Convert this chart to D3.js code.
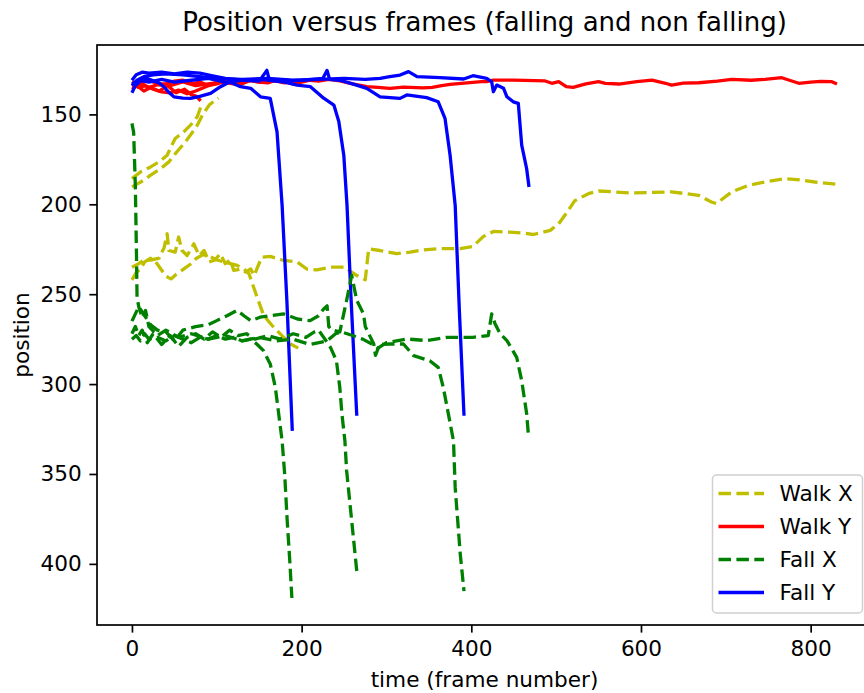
<!DOCTYPE html>
<html>
<head>
<meta charset="utf-8">
<script src="https://cdn.jsdelivr.net/npm/d3@7"></script>
<style>
  body { margin: 0; background: #fff; }
  text { font-family: "DejaVu Sans", sans-serif; fill: #000; }
</style>
</head>
<body>
<div class="canvas"></div>
<script>
// data: each trial is a list of [frame, position]
// walk trials: long, medium, short 1, short 2
const walkX = [
  [[0,235],[8,233],[14,231],[22,231],[32,230],[38,224],[41.5,216.4],[43.5,225.7],[51,226.6],[55,218.2],[59,225.7],[65,228.5],[73,222],[79,228.5],[85,225.7],[91,232],[98,231],[104,227.5],[110,233],[116,231],[120,236.8],[128,236],[134,237.7],[140,236],[144,239.6],[153,229.4],[163,229],[177,231],[195,232.2],[206,236],[218,236.5],[234,235],[252,235],[257,237.2],[265,239.6],[275,242],[279,224.7],[292,225.7],[312,227.5],[328,226.6],[344,225.3],[363,224.7],[387,224.7],[402,223.4],[414,218],[426,215.1],[446,215.5],[461,216],[473,216.8],[493,214.5],[503,210.8],[512,205],[522,198],[538,194.1],[550,192.6],[589,193.7],[636,193.1],[668,195],[683,198.7],[689,199.6],[707,193.1],[727,189.4],[746,187.6],[770,185.7],[790,186.6],[805,187.6],[831,188.9]],
  [[0,242],[5,238],[10,236],[15,232],[22,230],[28,232],[34,236],[40,240],[46,241.5],[52,239],[58,237],[64,235],[70,233],[76,230],[84,228],[92,229],[100,231],[108,232],[116,233],[124,234],[132,236],[138,238.7],[147.5,251.7],[155.4,261.9],[167,268.4],[179,274],[188,278],[196,280]],
  [[0,190.3],[7,188.5],[14,186.6],[22,183.8],[34,180.1],[43.5,176.4],[53,170.8],[63,165.3],[73,158.8],[77,156],[83,150.4],[91,144.8],[96,143],[102,141]],
  [[0,185.7],[10,182],[22,179.2],[32,176.4],[41.5,172.7],[46,168],[51,163.4],[61,159.7],[69,156],[77,151.3],[81,146]]
]

const walkY = [
  [[0,132],[10,133],[20,131],[30,133],[40,133],[50,131.5],[60,131],[70,133],[80,132],[90,134],[100,133],[110,131.5],[120,132],[130,133],[140,131],[150,132],[160,132.5],[170,131],[180,131.5],[190,133],[200,132],[210,131],[220,131.5],[232,130.5],[245,131.4],[260,133],[277,134.6],[290,135],[304,135.5],[320,134.8],[343,135.2],[354,135],[365,134],[375,133.3],[395,132.5],[412,131.8],[418,131.8],[426,130.9],[450,130.9],[487,131.4],[495,132.7],[503,131.8],[512,134.6],[520,135],[535,133],[550,131.8],[558,132.7],[574,133.1],[595,131.8],[613,130.9],[629,132.7],[636,133.7],[650,132.6],[668,132.4],[690,131.5],[707,130.5],[730,131],[746,130.5],[766,129.6],[775,131],[786,132.7],[800,132],[812,131.6],[825,131.8],[831,133.1]],
  [[0,134],[10,133],[20,135],[30,133.5],[45,134],[60,132],[75,134],[90,133],[105,132],[120,133],[135,131],[150,132],[165,131],[180,132.5],[196,131.5]],
  [[0,133],[8,135],[16,134],[25,136],[35,137.5],[45,138],[55,136.5],[65,138.5],[75,137],[85,135],[95,133],[102,132]],
  [[0,136],[6,134],[14,137],[22,135],[32,137],[42,134],[52,138],[62,136],[70,139],[76,140],[81,142.5]]
]

// fall trials: A, B, C, D
const fallX = [
  [[0,275],[5,273],[10,276],[15,272],[20,275],[30,274],[40,276],[50,273],[60,275],[70,277],[80,274],[90,275],[100,273],[110,275],[120,274],[130,276],[140,275],[147,277.7],[155,281.4],[163,288.8],[169,301.8],[173,316.7],[177,331.6],[180,350],[183,376],[186,398],[188.5,419]],
  [[0,272],[4,268],[8,273],[12,270],[18,277],[25,272],[35,278],[45,273],[55,279],[65,274],[75,272],[85,275],[95,271],[105,274],[115,270],[125,273],[135,272],[145,275],[160,273],[175,275],[190,272],[205,274],[215,271],[220,270],[226,274],[234,279.6],[241,287],[245,301.9],[247.5,316.7],[251,331.6],[253,348],[259,376],[265,404]],
  [[0,265],[5,260],[8,257],[15,262],[22,267],[30,270],[40,271],[50,276],[60,270],[75,268],[90,267],[100,264.7],[112,262],[124,259],[132,262],[140,264.7],[151,262.8],[163,262],[179,261],[195,263.8],[210,264.7],[220,262],[226,258.2],[230,256.5],[232,268],[236,270],[245,271],[253,253.5],[259,239.6],[265,253.5],[273,261],[275,268],[285,277.7],[287,284],[292,278],[304,277.7],[320,277.7],[332,284.2],[351,287],[361,290.7],[367,301.9],[373,316.7],[379,331.6],[381,357.6],[387,394.7],[391.4,415.2]],
  [[0,155],[2,160],[4,190],[5.4,230],[6,251.7],[8,257],[12,263],[16,259],[20,268],[30,273],[40,270],[55,274],[70,272],[90,275],[110,273],[130,276],[150,274],[170,276],[190,275],[210,278],[230,276],[240,272],[247,271],[260,273],[272,275],[280,277],[290,280],[300,277],[324,274.9],[347,275.8],[371,274],[402,274],[420,273],[424,261],[428,266.5],[434,272],[442,275.8],[453.5,285.1],[459.4,298.1],[465.3,316.7],[467.2,327.9]]
]

const fallY = [
  [[0,138],[4,134],[10,131.5],[18,130],[26,131.5],[32,132.5],[37.7,134.6],[44,138],[49.5,140.2],[60,141],[69,141.1],[80,140],[92.6,138.3],[104.4,134.6],[115,132],[128,134.6],[140,135.5],[151.5,140.2],[163,141.1],[171,159.7],[177,200.6],[182.6,253.5],[189,326]],
  [[0,131],[5,128],[12,126.5],[20,127],[35,126.5],[50,127.5],[65,126.5],[80,127],[95,128.5],[110,130],[130,131],[150,131.5],[159,125.5],[162,131],[180,132],[194.7,133.7],[210.4,134.6],[226,141],[238,144.8],[243.8,154],[249.7,172.7],[253.5,200.6],[258,250],[265,317.6]],
  [[0,133],[8,131],[20,132],[35,130.5],[50,132],[70,131],[90,130],[110,132],[130,131],[150,130.5],[175,131.5],[200,131],[225,130],[230,125.5],[233,130.5],[245,131],[260,133],[276.8,135.5],[292.5,140.2],[316,141.1],[324,139.2],[347.4,140.7],[361,143],[369,152.2],[375,172.7],[381,200.6],[386,260],[391.4,317.6]],
  [[0,134],[6,131],[14,129],[25,128],[40,127.5],[60,128],[80,129],[100,130],[130,130.5],[160,130],[190,131],[220,130.5],[250,130],[275,130.5],[292.5,130],[304,129],[316,128.1],[326,126.2],[336,129],[363,129.6],[391,130.3],[402,128.5],[418,129.9],[424,131.8],[426,137.4],[430,133.7],[438,135.5],[442,140.2],[449.5,143],[455.4,143.9],[459.4,167.1],[465.2,180.1],[468,190.4]]
]

const xTicks = [0, 200, 400, 600, 800]
const yTicks = [150, 200, 250, 300, 350, 400]
const legendLabels = ['Walk X', 'Walk Y', 'Fall X', 'Fall Y']

// figure layout
const dims = { width: 864, height: 693 }
const plot = { left: 97, top: 45, right: 872, bottom: 625 }
const fontSize = 21.6

const series = [
  { trials: walkX, color: '#bfbf00', dash: '12.5,5.4' },
  { trials: walkY, color: '#ff0000', dash: null },
  { trials: fallX, color: '#008000', dash: '12.5,5.4' },
  { trials: fallY, color: '#0000ff', dash: null }
]

const svg = d3.select('.canvas')
  .append('svg')
  .attr('width', dims.width)
  .attr('height', dims.height)

svg.append('rect')
  .attr('width', dims.width)
  .attr('height', dims.height)
  .attr('fill', '#fff')

// scales (y inverted like the original)
const x = d3.scaleLinear().domain([-41.2, 872.3]).range([plot.left, plot.right])
const y = d3.scaleLinear().domain([111.4, 434]).range([plot.top, plot.bottom])

svg.append('clipPath').attr('id', 'clip')
  .append('rect')
  .attr('x', plot.left).attr('y', plot.top)
  .attr('width', plot.right - plot.left).attr('height', plot.bottom - plot.top)

const line = d3.line()
  .x(d => x(d[0]))
  .y(d => y(d[1]))

const lines = svg.append('g').attr('clip-path', 'url(#clip)')

// matplotlib order: walk trials, then fall trials (X before Y in each)
const drawOrder = [[0, 1], [2, 3]]
drawOrder.forEach(pair => {
  const n = series[pair[0]].trials.length
  for (let t = 0; t < n; t++) {
    pair.forEach(si => {
      const s = series[si]
      lines.append('path')
        .datum(s.trials[t])
        .attr('fill', 'none')
        .attr('stroke', s.color)
        .attr('stroke-width', 3.3)
        .attr('stroke-linejoin', 'round')
        .attr('stroke-dasharray', s.dash)
        .attr('d', line)
    })
  }
})

// axes
const xAxis = svg.append('g')
  .attr('transform', `translate(0, ${plot.bottom})`)
  .call(d3.axisBottom(x).tickValues(xTicks).tickSize(7.6).tickPadding(7.6))

const yAxis = svg.append('g')
  .attr('transform', `translate(${plot.left}, 0)`)
  .call(d3.axisLeft(y).tickValues(yTicks).tickSize(7.6).tickPadding(7.6))

;[xAxis, yAxis].forEach(a => {
  a.select('.domain').remove()
  a.selectAll('line').attr('stroke', '#000').attr('stroke-width', 1.7)
  a.selectAll('text')
    .attr('font-family', 'DejaVu Sans')
    .attr('font-size', fontSize)
    .attr('fill', '#000')
})

// spines
svg.append('rect')
  .attr('x', plot.left).attr('y', plot.top)
  .attr('width', plot.right - plot.left).attr('height', plot.bottom - plot.top)
  .attr('fill', 'none')
  .attr('stroke', '#000')
  .attr('stroke-width', 1.7)

// titles
svg.append('text')
  .attr('x', (plot.left + plot.right) / 2).attr('y', 31)
  .attr('text-anchor', 'middle')
  .attr('font-size', 26)
  .text('Position versus frames (falling and non falling)')

svg.append('text')
  .attr('x', (plot.left + plot.right) / 2).attr('y', 687)
  .attr('text-anchor', 'middle')
  .attr('font-size', fontSize)
  .text('time (frame number)')

svg.append('text')
  .attr('transform', `translate(29, ${(plot.top + plot.bottom) / 2}) rotate(-90)`)
  .attr('text-anchor', 'middle')
  .attr('font-size', fontSize)
  .text('position')

// legend
const legend = svg.append('g').attr('transform', 'translate(712.5, 475)')
legend.append('rect')
  .attr('width', 150).attr('height', 138)
  .attr('rx', 4)
  .attr('fill', '#fff').attr('fill-opacity', 0.8)
  .attr('stroke', '#d0d0d0').attr('stroke-width', 1.5)

legendLabels.forEach((label, i) => {
  const s = series[i]
  const cy = 18.5 + i * 33
  legend.append('line')
    .attr('x1', 6).attr('x2', 51.5)
    .attr('y1', cy).attr('y2', cy)
    .attr('stroke', s.color)
    .attr('stroke-width', 3.3)
    .attr('stroke-dasharray', s.dash)
  legend.append('text')
    .attr('x', 67).attr('y', cy)
    .attr('dy', '0.36em')
    .attr('font-size', fontSize)
    .text(label)
})
</script>
</body>
</html>
